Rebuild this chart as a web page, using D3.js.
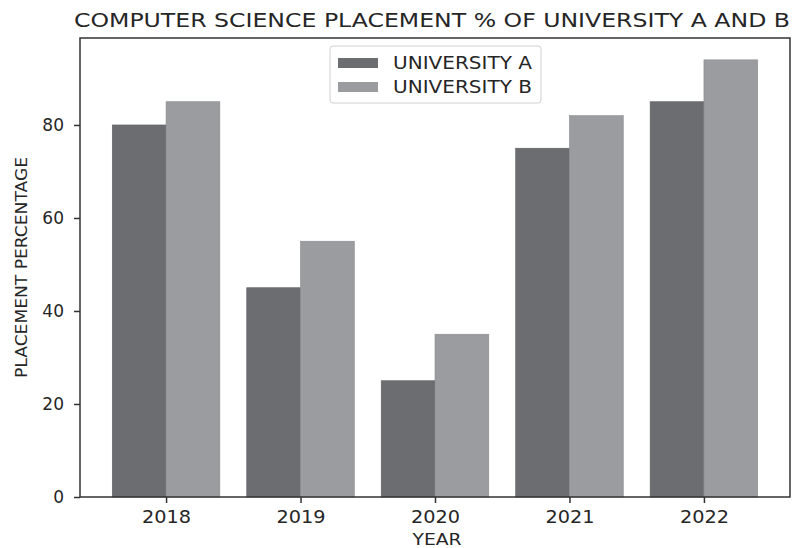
<!DOCTYPE html>
<html>
<head>
<meta charset="utf-8">
<script src="https://cdn.jsdelivr.net/npm/d3@7"></script>
<style>
  body { margin: 0; background: #fff; }
  svg text { font-family: "DejaVu Sans", sans-serif; fill: #262626; }
</style>
</head>
<body>
<svg width="798" height="548"></svg>
<script>
const years = ["2018", "2019", "2020", "2021", "2022"];
const uniA = [80, 45, 25, 75, 85];
const uniB = [85, 55, 35, 82, 94];
const seriesNames = ["UNIVERSITY A", "UNIVERSITY B"];
const seriesColors = ["#6c6d71", "#9b9ca0"];
const yTicks = [0, 20, 40, 60, 80];

const svg = d3.select("svg");
const plotL = 80, plotR = 790, plotT = 38, plotB = 497;

// matplotlib style margins: bars span i-0.4 .. i+0.4, 5% padding
const x = d3.scaleLinear().domain([-0.64, years.length - 1 + 0.64]).range([plotL, plotR]);
const y = d3.scaleLinear().domain([0, d3.max(uniB.concat(uniA)) * 1.05]).range([plotB, plotT]);
const barW = 0.4;

const series = [uniA, uniB];
series.forEach(function(vals, s) {
    svg.append("g").selectAll("rect").data(vals).enter().append("rect")
        .attr("x", (d, i) => x(i - barW + s * barW))
        .attr("width", x(barW) - x(0))
        .attr("y", d => y(d))
        .attr("height", d => y(0) - y(d))
        .attr("fill", seriesColors[s])
        .attr("stroke", d3.color(seriesColors[s]).darker(0.3))
        .attr("stroke-width", 0.6);
});

// axes
const xAxis = d3.axisBottom(x).tickValues(d3.range(years.length))
    .tickFormat(i => years[i]).tickSize(6).tickPadding(8);
const gx = svg.append("g").attr("transform", `translate(0,${plotB})`).call(xAxis);
gx.select(".domain").remove();
gx.selectAll("line").attr("stroke", "#333").attr("stroke-width", 1.5);
gx.selectAll("text").attr("font-size", 17).attr("fill", "#262626")
    .attr("textLength", 49).attr("lengthAdjust", "spacingAndGlyphs");

const yAxis = d3.axisLeft(y).tickValues(yTicks).tickSize(6).tickPadding(10);
const gy = svg.append("g").attr("transform", `translate(${plotL},0)`).call(yAxis);
gy.select(".domain").remove();
gy.selectAll("line").attr("stroke", "#333").attr("stroke-width", 1.5);
gy.selectAll("text").attr("font-size", 17).attr("fill", "#262626");

// frame
svg.append("rect")
    .attr("x", plotL).attr("y", plotT)
    .attr("width", plotR - plotL).attr("height", plotB - plotT)
    .attr("fill", "none").attr("stroke", "#333").attr("stroke-width", 1.5);

// title and labels
svg.append("text")
    .attr("x", 432).attr("y", 27)
    .attr("text-anchor", "middle").attr("font-size", 20)
    .attr("textLength", 716).attr("lengthAdjust", "spacingAndGlyphs")
    .text("COMPUTER SCIENCE PLACEMENT % OF UNIVERSITY A AND B");

svg.append("text")
    .attr("x", 437).attr("y", 545)
    .attr("text-anchor", "middle").attr("font-size", 16)
    .attr("textLength", 49).attr("lengthAdjust", "spacingAndGlyphs")
    .text("YEAR");

svg.append("text")
    .attr("transform", `translate(27,${(plotT + plotB) / 2}) rotate(-90)`)
    .attr("text-anchor", "middle").attr("font-size", 16)
    .attr("textLength", 221).attr("lengthAdjust", "spacingAndGlyphs")
    .text("PLACEMENT PERCENTAGE");

// legend
const lg = svg.append("g").attr("transform", "translate(330,46)");
lg.append("rect")
    .attr("width", 211).attr("height", 57).attr("rx", 3)
    .attr("fill", "#fff").attr("stroke", "#d0d0d0").attr("stroke-width", 1);
seriesNames.forEach(function(name, s) {
    const row = lg.append("g").attr("transform", `translate(8,${12 + s * 24})`);
    row.append("rect").attr("width", 40).attr("height", 10)
        .attr("fill", seriesColors[s]);
    row.append("text").attr("x", 55).attr("y", 11)
        .attr("font-size", 17)
        .attr("textLength", 139).attr("lengthAdjust", "spacingAndGlyphs")
        .text(name);
});
</script>
</body>
</html>
